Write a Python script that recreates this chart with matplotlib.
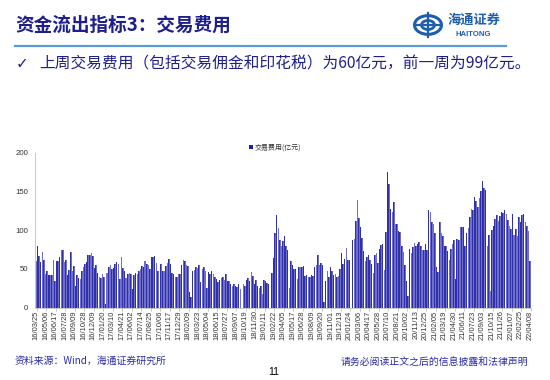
import matplotlib
matplotlib.use('Agg')
import matplotlib.pyplot as plt
from matplotlib.patches import Circle, Rectangle
from matplotlib.lines import Line2D

plt.rcParams['font.family'] = ['Noto Sans CJK SC', 'DejaVu Sans']

# ---------------- data ----------------
title = "资金流出指标3：交易费用"
bullet = "上周交易费用（包括交易佣金和印花税）为60亿元，前一周为99亿元。"
series_name = "交易费用(亿元)"
source = "资料来源：Wind，海通证券研究所"
disclaimer = "请务必阅读正文之后的信息披露和法律声明"
page_no = "11"

tick_labels = [
    "16/03/25", "16/05/06", "16/06/17", "16/07/28", "16/09/09", "16/10/28", "16/12/09",
    "17/01/20", "17/03/10", "17/04/21", "17/06/02", "17/07/14", "17/08/25", "17/10/06",
    "17/11/17", "17/12/29", "18/02/09", "18/03/23", "18/05/04", "18/06/15", "18/07/27",
    "18/09/07", "18/10/19", "18/11/30", "19/01/11", "19/02/22", "19/04/05", "19/05/17",
    "19/06/28", "19/08/09", "19/09/20", "19/11/01", "19/12/13", "20/01/24", "20/03/06",
    "20/04/17", "20/05/28", "20/07/10", "20/08/21", "20/10/02", "20/11/13", "20/12/25",
    "21/02/05", "21/03/19", "21/04/30", "21/06/11", "21/07/23", "21/09/03", "21/10/15",
    "21/11/26", "22/01/07", "22/02/25", "22/04/08",
]
label_step = 6

fees_2016_2017 = [
    60, 80, 67, 59, 72, 62, 44, 48, 42, 42, 42, 62, 34, 60, 60, 66, 74, 74, 59, 61,
    42, 49, 72, 48, 54, 28, 42, 38, 37, 48, 53, 57, 59, 68, 68, 70, 67, 51, 55, 45,
    40, 38, 44, 40, 5, 45, 53, 55, 50, 51, 56, 59, 57, 37, 66, 51, 48, 38, 44, 45,
    44, 24, 42, 45, 43, 47, 50, 54, 53, 60, 56, 55, 50, 65, 66, 67, 58, 48, 0,
]
fees_2017_2018 = [
    57, 48, 48, 54, 58, 63, 57, 45, 44, 40, 39, 43, 43, 55, 61, 60, 55, 54, 20, 14,
    48, 49, 53, 51, 55, 33, 50, 52, 48, 26, 46, 44, 47, 44, 39, 37, 33, 36, 38, 39,
    36, 43, 35, 35, 30, 28, 30, 28, 27, 30, 24, 0,
    31, 28, 36, 38, 35, 46, 41, 30, 36, 28, 26, 28, 18, 36, 34, 32, 30, 0,
]
fees_2019_2020 = [
    45, 64, 96, 119, 103, 88, 80, 86, 92, 80, 74, 25,
    60, 55, 50, 50, 37, 52, 53, 52, 54, 41, 42, 40, 40, 42, 41, 52, 55, 68, 55, 58, 55,
    7, 35, 47, 40, 52, 48, 42, 43, 40, 41, 50, 70, 57, 63, 77, 61, 61, 0,
    88, 89, 112, 139, 116, 104, 90, 73, 60, 65, 68, 62, 56, 45, 68, 70, 58, 76, 81, 82,
    49, 98, 175, 160, 128, 124, 136, 108, 108, 99, 98, 80, 72, 55, 34, 15,
    76, 70, 78, 84, 79, 82, 85, 80, 75, 74, 82, 74,
]
fees_2021_2022 = [
    126, 123, 110, 108, 97, 53, 46, 111, 96, 92, 80, 80, 73, 62, 76, 82, 88, 37,
    89, 88, 104, 104, 104, 80, 97, 103, 117, 128, 126, 143, 138, 130, 141, 150, 163,
    155, 152, 80, 94, 22,
    100, 106, 115, 120, 112, 118, 123, 122, 126, 121, 113, 106, 102, 121, 94, 101,
    93, 117, 110, 119, 121, 110, 105, 99, 60,
]
fees = fees_2016_2017 + fees_2017_2018 + fees_2019_2020 + fees_2021_2022

y_ticks = [0, 50, 100, 150, 200]

# ---------------- figure ----------------
W, H = 550, 380
fig = plt.figure(figsize=(W / 100, H / 100), dpi=100)


def fx(x):
    return x / W


def fy(y):
    return 1 - y / H


navy = '#1e1e8c'
blue_txt = '#2a2aa8'

# title
fig.text(fx(15), fy(25), title, fontsize=13.4, fontweight='bold', color=navy,
         va='center', ha='left')
# rule under the title
fig.add_artist(Line2D([fx(15), fx(506)], [fy(46), fy(46)], color='#5b9bd5', lw=1.6))

# logo
logo_c = '#1d5fae'
fig.add_artist(Circle((fx(428), fy(25)), 13.5 / W, transform=fig.transFigure,
                      facecolor='white', edgecolor=logo_c, lw=2.2))
fig.add_artist(Circle((fx(428), fy(25)), 6.5 / W, transform=fig.transFigure,
                      facecolor='none', edgecolor=logo_c, lw=2.0))
fig.add_artist(Line2D([fx(416), fx(440)], [fy(25), fy(25)], color=logo_c, lw=1.6))
fig.add_artist(Line2D([fx(428), fx(428)], [fy(13), fy(37)], color=logo_c, lw=1.6))
fig.text(fx(474), fy(20), "海通证券", fontsize=9.5, color=logo_c, fontweight='bold',
         ha='center', va='center', style='italic')
fig.text(fx(473), fy(34), "HAITONG", fontsize=5.6, color=logo_c, fontweight='bold',
         ha='center', va='center', family=['Liberation Sans', 'DejaVu Sans'])

# bullet line
fig.text(fx(16), fy(64), "✓", fontsize=11, color=navy, va='center', ha='left',
         family=['DejaVu Sans'])
fig.text(fx(39), fy(64), bullet, fontsize=11.3, color=navy, va='center', ha='left')

# ---------------- chart ----------------
n = len(fees)
ax = fig.add_axes([fx(35), fy(307.7), 496 / W, 155 / H])
x = list(range(n))
ax.bar(x, fees, width=0.92, color='#7070ca', linewidth=0)
ax.bar([v - 0.22 for v in x], fees, width=0.46, color='#3030a8', linewidth=0)

ax.set_xlim(-0.6, n - 0.4)
ax.set_ylim(0, 200)
ax.set_yticks(y_ticks)
ax.set_yticklabels([str(v) for v in y_ticks], fontsize=5.6, color='#333333',
                   family=['Liberation Sans', 'DejaVu Sans'])
ax.tick_params(axis='y', length=0, pad=5)

pos = list(range(0, n, label_step))
ax.set_xticks(pos)
ax.set_xticklabels(tick_labels[:len(pos)], rotation=90, fontsize=5.4, color='#333333',
                   family=['Liberation Sans', 'DejaVu Sans'])
ax.tick_params(axis='x', length=0, pad=2)
ax.set_xticks([p + 0.5 for p in pos], minor=True)
ax.tick_params(axis='x', which='minor', length=2, color='#bbbbbb', width=0.6)

for s in ['top', 'right']:
    ax.spines[s].set_visible(False)
ax.spines['left'].set_color('#c8c8c8')
ax.spines['left'].set_linewidth(0.7)
ax.spines['bottom'].set_color('#c8c8c8')
ax.spines['bottom'].set_linewidth(0.7)
ax.set_facecolor('none')

# legend
fig.add_artist(Rectangle((fx(249), fy(149.5)), 4 / W, 4 / H, transform=fig.transFigure,
                         facecolor='#2020a0', edgecolor='none'))
fig.text(fx(255), fy(147.5), series_name, fontsize=5, color='#333333', va='center', ha='left')

# footer
fig.text(fx(15), fy(361), source, fontsize=7.1, color=blue_txt, va='center', ha='left')
fig.text(fx(274), fy(372), page_no, fontsize=7.5, color='black', va='center', ha='center',
         family=['Liberation Sans', 'DejaVu Sans'])
fig.text(fx(528), fy(362), disclaimer, fontsize=7.1, color=blue_txt, va='center', ha='right')

fig.savefig('out.png', dpi=100)
